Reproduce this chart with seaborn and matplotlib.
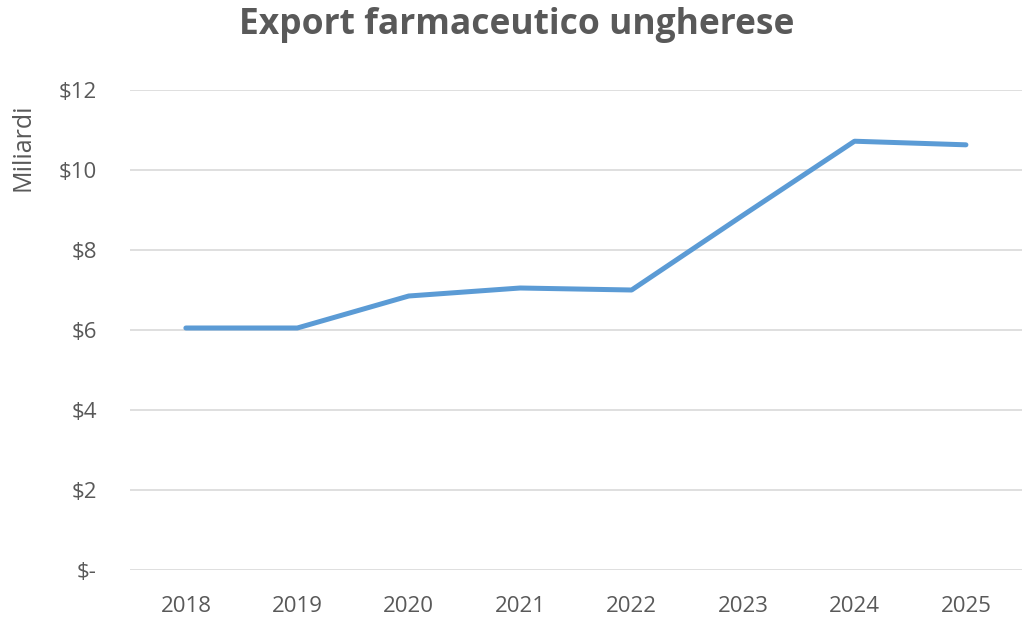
import pandas as pd
import matplotlib
matplotlib.use("Agg")
import matplotlib.pyplot as plt
import seaborn as sns

# Data
years = ["2018", "2019", "2020", "2021", "2022", "2023", "2024", "2025"]
export_bn = [6.05, 6.05, 6.85, 7.05, 7.0, 8.87, 10.72, 10.63]
y_ticks = [0, 2, 4, 6, 8, 10, 12]
y_tick_labels = ["$-", "$2", "$4", "$6", "$8", "$10", "$12"]

df = pd.DataFrame({"Anno": years, "Export": export_bn})

sns.set_style("white")
plt.rcParams["font.family"] = ["Open Sans", "DejaVu Sans"]

text_color = "#595959"
fig = plt.figure(figsize=(10.33, 6.34), dpi=100)
ax = fig.add_axes([0.126, 0.101, 0.863, 0.757])

sns.lineplot(data=df, x="Anno", y="Export", ax=ax, color="#5B9BD5",
             linewidth=3.6, sort=False)

ax.set_xlim(-0.5, len(years) - 0.5)
ax.set_ylim(0, 12)
ax.set_yticks(y_ticks)
ax.set_yticklabels(y_tick_labels)
ax.yaxis.grid(True, color="#D9D9D9", linewidth=1.2)
ax.set_axisbelow(True)
for s in ax.spines.values():
    s.set_visible(False)
ax.tick_params(axis="both", length=0, labelsize=16, colors=text_color)
ax.tick_params(axis="y", pad=24)
ax.tick_params(axis="x", pad=19)

ax.set_xlabel("")
ax.set_ylabel("Miliardi", fontsize=18, color=text_color)
ax.yaxis.set_label_coords(-0.106, 0.88)

fig.suptitle("Export farmaceutico ungherese", fontsize=25.5, fontweight="bold",
             color=text_color, x=0.5, y=0.961, va="center")

fig.savefig("out.png", dpi=100)
